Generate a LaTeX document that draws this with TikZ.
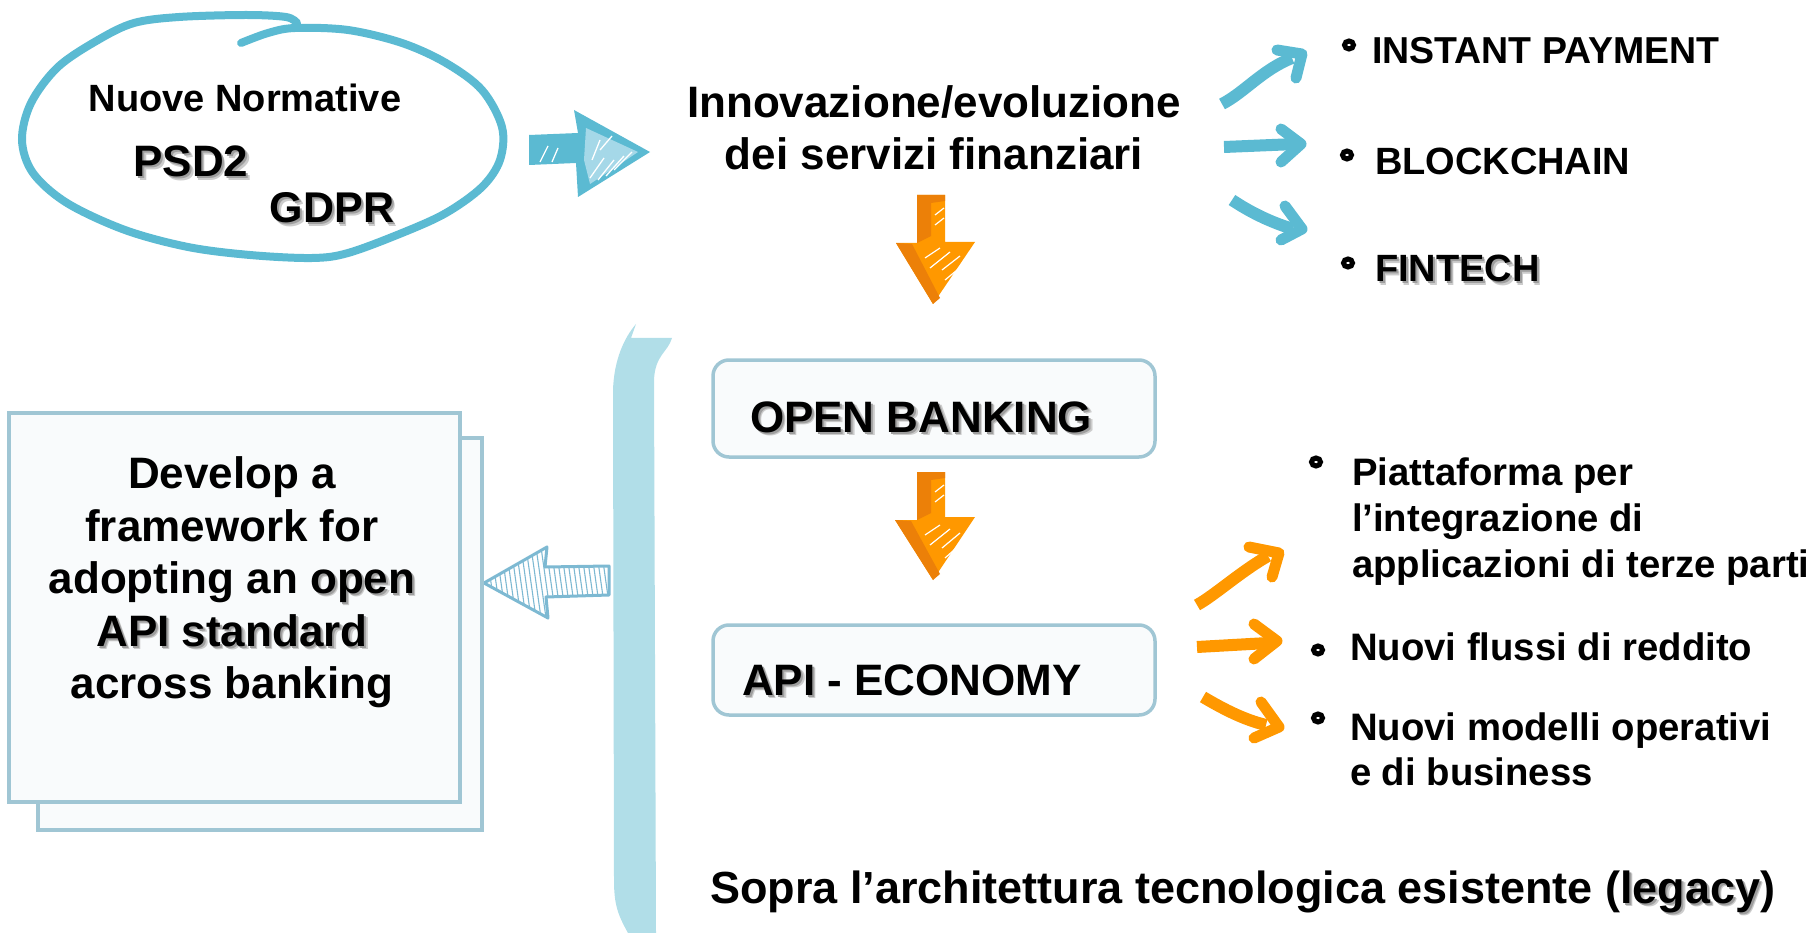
\documentclass[tikz,border=0pt]{standalone}
\usepackage{fontspec}
\setmainfont{Liberation Sans}
\usetikzlibrary{calc,shapes.geometric}
\definecolor{cblue}{RGB}{91,186,210}
\definecolor{cblueL}{RGB}{165,216,232}
\definecolor{cbar}{RGB}{177,222,232}
\definecolor{corange}{RGB}{255,152,0}
\definecolor{corangeD}{RGB}{236,128,8}
\definecolor{cbox}{RGB}{160,198,212}
\definecolor{cboxfill}{RGB}{249,251,252}
\definecolor{chatch}{RGB}{125,185,210}
\newcommand\fsz[1]{\fontsize{#1}{#1}\selectfont\bfseries}
\newcommand\shd[1]{\leavevmode\rlap{\kern3.5pt\raisebox{-3.5pt}{\color{black!20}#1}}\rlap{\kern2pt\raisebox{-2pt}{\color{black!38}#1}}#1}
\begin{document}
\begin{tikzpicture}[x=1pt,y=-1pt,
  txt/.style={inner sep=0pt, outer sep=0pt, text=black},
  bul/.style={ellipse, draw=black, line width=5pt, inner sep=0pt, minimum width=9pt, minimum height=8pt},
  bstroke/.style={draw=cblue, line width=12pt, line join=round},
  ostroke/.style={draw=corange, line width=12pt, line join=round},
  headstroke/.style={line width=11pt, line join=round, line cap=round},
  sqbox/.style={draw=cbox, line width=4.5pt, fill=cboxfill, inner sep=0pt},
  rbox/.style={draw=cbox, line width=3.5pt, fill=cboxfill, rounded corners=16pt, inner sep=0pt}]
\useasboundingbox (0,0) rectangle (1818,933);

% ---------- ellipse with regulations
\draw[cblue, line width=8pt, line cap=round] plot[smooth, tension=0.55] coordinates {(241,43) (268,33) (295,28) (348,30) (402,43) (446,63) (482,90) (502,127) (500,160) (482,187) (446,213) (402,233) (348,253) (312,258) (250,255) (188,247) (125,230) (67,203) (33,173) (22,140) (31,103) (58,67) (98,40) (134,23) (179,17) (246,15) (286,17) (297,23)};
\coordinate (ellE) at (509,140);
\node[txt, font=\fsz{38}, anchor=base] (nn) at (245,112) {Nuove Normative};
\node[txt, font=\fsz{44}, anchor=base] (psd) at (191,177) {\shd{PSD2}};
\node[txt, font=\fsz{43}, anchor=base] (gdpr) at (332,223) {\shd{GDPR}};

% ---------- sketchy blue block arrow
\fill[cblue] (529,135) -- (578,133) -- (574,110) -- (650,152) -- (578,197) -- (576,163) -- (529,165) -- cycle;
\fill[cblueL] (586,128) -- (638,152) -- (590,184) -- (584,160) -- cycle;
\foreach \a/\b/\c/\d in {590/178/604/158, 598/180/614/160, 606/176/624/156, 614/170/632/152, 592/160/600/140, 600/150/612/136, 540/162/548/146, 552/162/558/148}
  \draw[white, line width=1.3pt] (\a,\b) -- (\c,\d);
\coordinate (blueTip) at (650,152);

% ---------- central title
\node[txt, font=\fsz{44}, anchor=base] (inn1) at (934,118) {Innovazione/evoluzione};
\node[txt, font=\fsz{44}, anchor=base] (inn2) at (934,170) {dei servizi finanziari};

% ---------- blue hand-drawn arrows to right list
\draw[bstroke] (1222,104) .. controls (1245,92) and (1262,70) .. (1292,58);
\draw[cblue, headstroke] (1277,50) -- (1302,54) -- (1296,78);
\draw[bstroke] (1224,147) -- (1296,144);
\draw[cblue, headstroke] (1281,129) -- (1301,144) -- (1281,162);
\draw[bstroke] (1232,200) .. controls (1250,212) and (1270,222) .. (1293,229);
\draw[cblue, headstroke] (1285,206) -- (1302,229) -- (1281,240);

% ---------- right list (top)
\node[bul] (b1) at (1349,45) {};
\node[txt, font=\fsz{37.5}, anchor=base west] (ip) at (1372,64) {INSTANT PAYMENT};
\node[bul] (b2) at (1347,155) {};
\node[txt, font=\fsz{38}, anchor=base west] (bc) at (1375,175) {BLOCKCHAIN};
\node[bul] (b3) at (1348,263) {};
\node[txt, font=\fsz{38}, anchor=base west] (ft) at (1375,282) {\shd{FINTECH}};

% ---------- orange block arrow 1
\fill[corange] (917,195) -- (945,195) -- (945,242) -- (975,242) -- (933,304) -- (896,243) -- (917,243) -- cycle;
\fill[corangeD] (917,195) -- (945,195) -- (945,201) -- (931,203) -- (931,236) -- (917,243) -- cycle;
\fill[corangeD] (896,243) -- (912,244) -- (940,298) -- (933,304) -- cycle;
\foreach \a/\b/\c/\d in {935/215/944/208, 935/225/944/218, 925/258/940/248, 930/268/950/252, 942/270/960/256, 945/280/962/266}
  \draw[white, line width=1.2pt] (\a,\b) -- (\c,\d);

% ---------- OPEN BANKING / API ECONOMY boxes
\node[rbox, minimum width=442pt, minimum height=97pt] (ob) at (934,408.5) {};
\node[txt, font=\fsz{44}, anchor=base west] (obt) at (750,432) {\shd{OPEN BANKING}};
\fill[corange] (917,472) -- (945,472) -- (945,517) -- (975,517) -- (933,580) -- (895,520) -- (917,520) -- cycle;
\fill[corangeD] (917,472) -- (945,472) -- (945,478) -- (931,480) -- (931,513) -- (917,520) -- cycle;
\fill[corangeD] (895,520) -- (911,521) -- (940,574) -- (933,580) -- cycle;
\foreach \a/\b/\c/\d in {935/492/944/485, 935/502/944/495, 925/535/940/525, 930/545/950/529, 942/548/960/533, 945/558/962/543}
  \draw[white, line width=1.2pt] (\a,\b) -- (\c,\d);
\node[rbox, minimum width=442pt, minimum height=90pt] (ae) at (934,670) {};
\node[txt, font=\fsz{44}, anchor=base west] (aet) at (742,695) {\shd{API} - ECONOMY};

% ---------- orange hand-drawn arrows
\draw[ostroke] (1197,605) .. controls (1215,595) and (1240,572) .. (1268,556);
\draw[corange, headstroke] (1249,547) -- (1279,553) -- (1272,577);
\draw[ostroke] (1197,647) -- (1268,643);
\draw[corange, headstroke] (1254,624) -- (1277,641) -- (1254,659);
\draw[ostroke] (1203,697) .. controls (1225,710) and (1245,720) .. (1266,725);
\draw[corange, headstroke] (1261,702) -- (1279,727) -- (1254,738);

% ---------- right list (bottom)
\node[bul] (c1) at (1316,462) {};
\node[txt, font=\fsz{38.3}, anchor=base west] (pa1) at (1352,485) {Piattaforma per};
\node[txt, font=\fsz{38.3}, anchor=base west] (pa2) at (1352,531) {l’integrazione di};
\node[txt, font=\fsz{38.3}, anchor=base west] (pa3) at (1352,577) {applicazioni di terze parti};
\node[bul] (c2) at (1318,650) {};
\node[txt, font=\fsz{38.3}, anchor=base west] (nf) at (1350,660) {Nuovi flussi di reddito};
\node[bul] (c3) at (1318,718) {};
\node[txt, font=\fsz{38.3}, anchor=base west] (nm1) at (1350,740) {Nuovi modelli operativi};
\node[txt, font=\fsz{38.3}, anchor=base west] (nm2) at (1350,785) {e di business};

% ---------- bracket
\fill[cbar] (636,324) -- (631,338) -- (672,338) .. controls (668,352) and (655,355) .. (654,380) -- (656,933) -- (628,933) .. controls (618,915) and (614,905) .. (614,880) -- (613,390) .. controls (614,360) and (624,338) .. (636,324) -- cycle;
\coordinate (brk) at (613,582);

% ---------- hatched arrow to the left
\begin{scope}
  \clip (484,583) -- (547,547) -- (545,567) -- (609,566) -- (609,595) -- (546,597) -- (548,618) -- cycle;
  \foreach \i in {0,...,28}
    \draw[chatch, line width=1.1pt] ({470+\i*5},540) -- ({482+\i*5},625);
\end{scope}
\draw[chatch, line width=3pt, line join=round] (484,583) -- (547,547) -- (545,567) -- (609,566) -- (609,595) -- (546,597) -- (548,618) -- cycle;

% ---------- Develop box
\node[sqbox, minimum width=444pt, minimum height=392pt] (devb) at (260,634) {};
\node[sqbox, minimum width=451pt, minimum height=389pt] (dev) at (234.5,607.5) {};
\node[txt, font=\fsz{44}, anchor=base] (d1) at (232,488) {Develop a};
\node[txt, font=\fsz{44}, anchor=base] (d2) at (232,541) {framework for};
\node[txt, font=\fsz{44}, anchor=base] (d3) at (232,593) {adopting an \shd{open}};
\node[txt, font=\fsz{44}, anchor=base] (d4) at (232,646) {\shd{API standard}};
\node[txt, font=\fsz{44}, anchor=base] (d5) at (232,698) {across banking};

% ---------- bottom line
\node[txt, font=\fsz{45}, anchor=base west] (sopra) at (710,903) {Sopra l’architettura tecnologica esistente (\shd{legacy})};
\end{tikzpicture}
\end{document}
